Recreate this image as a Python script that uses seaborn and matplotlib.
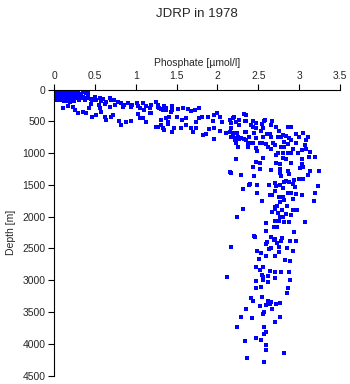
import numpy as np
import pandas as pd
import matplotlib
matplotlib.use("Agg")
import matplotlib.pyplot as plt
import seaborn as sns

# ---------------- data (phosphate [umol/l], depth [m]) ----------------
surface_phos = [0.01,0.03,0.05,0.07,0.09,0.11,0.13,0.15,0.17,0.19,0.21,0.23,0.25,
                0.02,0.04,0.06,0.08,0.10,0.12,0.14,0.16,0.18,0.20,0.22,0.24,0.26,0.27,0.29,
                0.01,0.03,0.05,0.07,0.09,0.11,0.13,0.15,0.17,0.19,0.21,0.23,0.25,0.26,0.28,0.31,0.33,
                0.02,0.04,0.06,0.08,0.10,0.12,0.14,0.16,0.18,0.20,0.22,0.25,0.27,0.29,0.24,0.27,0.30,0.36,0.40,0.45,
                0.03,0.07,0.12,0.18,0.24,0.30,0.38,0.46,0.06,0.14,0.22,0.28,0.35,0.38,0.42]
surface_depth = [10,20,5,15,25,10,20,8,18,12,22,15,28,
                 40,55,35,50,45,60,38,52,42,58,48,62,40,30,45,
                 75,90,70,85,95,78,88,100,82,92,105,80,95,75,85,70,90,
                 115,130,120,140,110,125,145,118,135,150,128,140,120,135,110,125,140,115,130,145,
                 160,170,180,165,175,160,165,160,0,0,2,5,15,40,55]

band_phos = [0.35,0.39,0.50,0.56,0.60,0.68,0.74,0.78,0.82,0.86,0.90,0.94,1.01,1.03,1.09,1.13,1.17,1.25,1.27,1.31,1.37,
             0.11,0.17,0.23,0.26,0.29,0.35,0.39,0.43,0.47,0.52,0.56,0.58,0.62,0.64,0.70,0.72,0.80,0.82,0.88,0.94,1.05,1.09,1.03,1.13,1.17,1.25,1.31,1.39,1.37,
             0.15,0.20,0.25,0.30,0.36,0.42,0.47,0.52,0.58,0.64,0.70,0.45,0.55,0.62,0.68,0.75,0.85,0.95,1.05,1.10]
band_depth = [24,60,113,138,149,138,165,192,217,244,217,271,217,255,217,255,296,192,271,307,296,
              296,255,271,322,374,349,374,296,428,401,296,349,428,480,428,401,496,558,506,496,453,444,390,506,374,585,558,516,453,
              180,200,170,150,130,120,150,170,180,190,160,230,250,230,280,240,280,240,290,320]

slope_phos = [1.19,1.25,1.27,1.29,1.33,1.37,1.35,1.45,1.45,1.43,1.52,1.58,1.64,1.68,1.72,1.78,1.19,1.31,1.41,1.50,
              1.57,1.62,1.74,1.78,1.81,1.88,1.96,2.00,2.03,1.94,2.05,2.19,2.15,2.27,2.35,2.34,1.27,1.33,1.35,1.39,
              1.45,1.47,1.56,1.62,1.68,1.74,1.70,1.82,1.90,1.96,1.96,1.86,2.03,2.11,2.17,2.15,2.19,2.21,2.27,2.25,
              2.27,2.34,2.35,2.44,2.47,2.56,2.58,2.23,2.39,2.52]
slope_depth = [244,201,244,296,322,322,255,255,322,359,307,296,307,338,322,296,374,480,437,437,
               480,453,506,444,428,437,401,374,428,496,506,444,480,480,401,496,585,601,637,547,
               664,601,610,558,610,601,664,716,621,601,779,705,653,689,601,664,742,794,558,742,
               779,664,794,585,610,601,480,846,846,846]

knee_phos = [2.20,2.33,2.35,2.23,2.16,2.43,2.41,2.47,2.57,2.54,2.67,2.66,2.72,2.86,2.90,2.35,2.19,2.24,2.45,2.53,
             2.61,2.64,2.75,2.80,2.84,2.96,3.05,2.17,2.22,2.29,2.33,2.39,2.47,2.56,2.66,2.74,2.78,2.87,2.90,3.00,
             3.09,3.11,2.23,2.37,2.43,2.54,2.59,2.68,2.71,2.82,2.86,2.96,3.07,2.25,2.38,2.47,2.49,2.62,2.66,2.78,
             2.82,2.92,3.03,3.09,2.74,2.80,2.86,2.90,2.98,3.13,3.19,2.56,2.72,2.80,2.84,3.03,3.12,2.23,2.47,2.52,
             2.72,2.76,2.90,3.03,3.05,2.43,2.52,2.66,2.76,2.86,3.01,3.13,3.24,2.17,2.29,2.45,2.76,2.78,2.88,3.00,
             3.05,2.94,3.11,2.39,2.72,2.82,2.15]
knee_depth = [428,390,491,516,532,496,558,522,496,543,496,558,585,585,595,664,680,689,680,648,
              700,700,648,716,727,705,689,742,768,768,783,742,768,742,752,742,752,768,794,742,
              794,752,821,846,846,837,857,837,873,831,857,846,873,900,900,925,963,909,941,900,
              900,941,952,941,994,1004,994,1004,994,978,1057,1082,1030,1082,1098,1098,1057,1098,1136,1161,
              1161,1172,1151,1172,1214,1214,1255,1266,1255,1277,1240,1277,1282,1309,1345,1361,1318,1356,1329,1408,
              1408,1424,1345,1502,1518,1450,1302]

column_phos = [2.84,2.87,2.92,2.71,2.77,2.63,2.49,2.40,2.95,2.80,3.23,2.31,2.70,2.48,2.86,2.90,2.96,3.03,2.64,2.67,
               2.75,2.80,2.82,2.92,3.20,2.54,2.76,3.18,2.73,2.71,2.85,2.31,2.70,2.79,2.92,2.97,2.67,2.74,2.84,2.90,
               2.24,2.80,2.77,2.70,2.75,2.82,2.87,3.07,2.60,2.69,2.73,2.65,2.69]
column_depth = [1439,1455,1486,1471,1497,1502,1502,1491,1538,1549,1518,1565,1601,1623,1623,1623,1644,1660,1655,1664,
                1686,1696,1738,1727,1623,1749,1770,1754,1833,1844,1833,1880,1884,1900,1895,1895,1927,1947,1958,1979,
                2010,2001,2010,2064,2073,2089,2084,2089,2105,2158,2168,2325,2367]

deep_phos = [2.60,2.94,2.45,2.46,2.66,2.70,2.79,2.78,2.89,2.96,2.60,2.61,2.73,2.16,2.63,2.66,2.75,2.85,2.92,2.49,
             2.53,2.75,2.59,2.71,2.51,2.83,2.89,2.47,2.56,2.52,2.64,2.71,2.78,2.87,2.12,2.54,2.62,2.56,2.56,2.70,
             2.47,2.62,2.89,2.47,2.53,2.86,2.85,2.41,2.54,2.43,2.62,2.65,2.64,2.60,2.72,2.76,2.52,2.35,2.67,2.57,
             2.56,2.29,2.42,2.76,2.71,2.24,2.57,2.60,2.57,2.47,2.53,2.34,2.60,2.60,2.82,2.36,2.57]
deep_depth = [2226,2242,2304,2325,2316,2356,2341,2383,2388,2388,2430,2404,2410,2477,2509,2498,2477,2498,2545,2545,
              2567,2556,2624,2624,2671,2677,2702,2792,2792,2839,2850,2875,2875,2875,2949,2918,2934,2954,2997,2970,
              3017,3033,2997,3127,3111,3127,3196,3280,3269,3327,3332,3347,3369,3394,3369,3363,3406,3458,3458,3505,
              3531,3583,3599,3583,3662,3741,3741,3819,3851,3904,3945,3956,4024,4102,4145,4219,4282]

x_ticks = [0, 0.5, 1, 1.5, 2, 2.5, 3, 3.5]
x_tick_labels = ["0", "0.5", "1", "1.5", "2", "2.5", "3", "3.5"]
y_ticks = [0, 500, 1000, 1500, 2000, 2500, 3000, 3500, 4000, 4500]
y_tick_labels = [str(v) for v in y_ticks]

df = pd.DataFrame({
    "phosphate": surface_phos + band_phos + slope_phos + knee_phos + column_phos + deep_phos,
    "depth": surface_depth + band_depth + slope_depth + knee_depth + column_depth + deep_depth,
})

# ---------------- plot ----------------
sns.set_style("ticks")
plt.rcParams["font.family"] = ["Liberation Sans", "DejaVu Sans"]

fig = plt.figure(figsize=(3.5, 3.84), dpi=100)
ax = fig.add_axes([54 / 350, 1 - 375.5 / 384, (340 - 54) / 350, (375.5 - 89.5) / 384])

sns.scatterplot(data=df, x="phosphate", y="depth", marker="s", s=5,
                color="#0000ff", linewidth=0, ax=ax, legend=False)

ax.set_xlim(0, 3.5)
ax.set_ylim(4500, 0)
ax.xaxis.tick_top()
ax.xaxis.set_label_position("top")
ax.set_xticks(x_ticks)
ax.set_xticklabels(x_tick_labels)
ax.set_yticks(y_ticks)
ax.set_yticklabels(y_tick_labels)
ax.set_xlabel("Phosphate [\u00b5mol/l]", fontsize=7.5, labelpad=4)
ax.set_ylabel("Depth [m]", fontsize=7.5, labelpad=5)
ax.tick_params(axis="both", labelsize=7.5, direction="out", length=4, width=0.8,
               color="black", pad=2)
for side in ["right", "bottom"]:
    ax.spines[side].set_visible(False)
for side in ["left", "top"]:
    ax.spines[side].set_linewidth(0.8)
    ax.spines[side].set_color("black")

fig.text((54 + 340) / 2 / 350, 1 - 14 / 384, "JDRP in 1978", ha="center", va="center",
         fontsize=9.5)

fig.savefig("out.png", dpi=100)
